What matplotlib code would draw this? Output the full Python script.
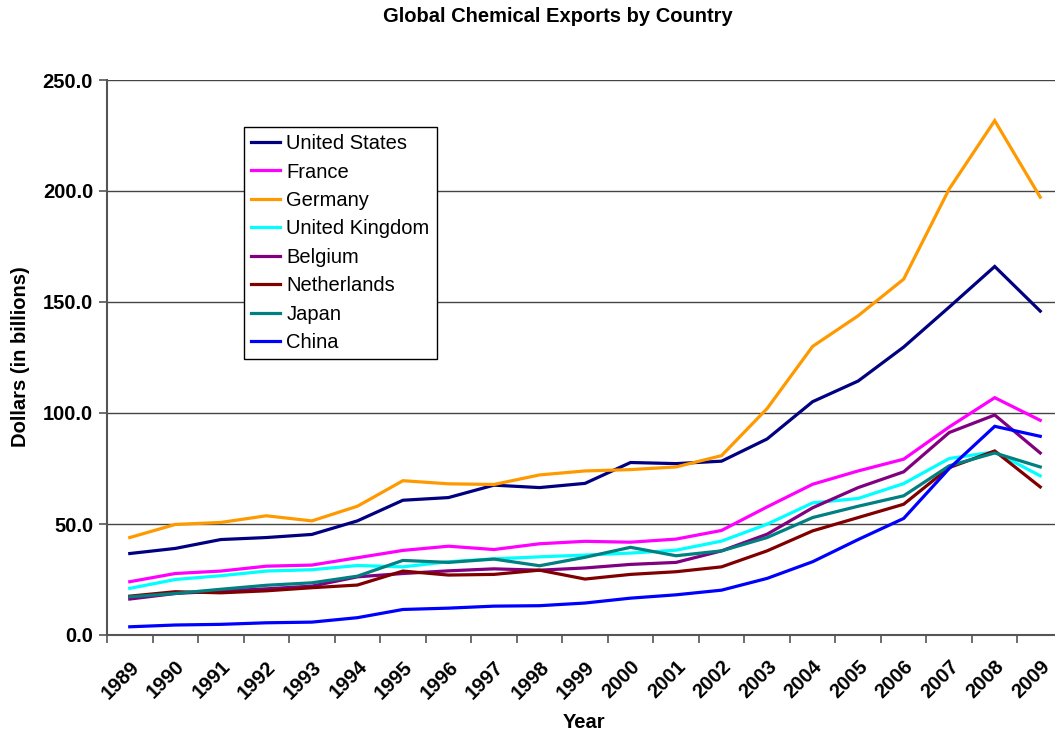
import numpy as np
import matplotlib
matplotlib.use('Agg')
import matplotlib.pyplot as plt

plt.rcParams['font.family'] = ['Liberation Sans', 'DejaVu Sans']

years = [str(y) for y in range(1989, 2010)]

# values, billions of dollars
united_states = [36.7, 39.0, 43.0, 43.9, 45.3, 51.4, 60.7, 61.9, 67.5, 66.4, 68.3,
                 77.7, 77.2, 78.3, 88.3, 105.1, 114.4, 129.7, 147.7, 166.0, 145.9]
france = [24.0, 27.7, 28.8, 31.0, 31.5, 34.8, 38.1, 40.0, 38.5, 41.1, 42.2,
          41.8, 43.2, 47.1, 57.7, 67.9, 73.9, 79.2, 93.7, 106.9, 96.7]
germany = [43.9, 49.8, 50.7, 53.7, 51.4, 58.0, 69.5, 68.1, 67.8, 72.1, 73.9,
           74.5, 75.7, 80.8, 102.0, 130.0, 143.8, 160.3, 200.9, 231.7, 197.2]
united_kingdom = [21.0, 25.0, 26.7, 28.8, 29.4, 31.3, 30.7, 33.0, 34.3, 35.2, 36.0,
                  36.9, 38.2, 42.3, 49.9, 59.5, 61.5, 68.2, 79.5, 82.5, 71.7]
belgium = [16.2, 18.7, 19.8, 20.8, 22.0, 26.2, 27.7, 28.9, 29.8, 29.2, 30.2,
           31.8, 32.7, 37.9, 45.4, 57.3, 66.4, 73.5, 91.2, 99.1, 82.0]
netherlands = [17.5, 19.5, 19.0, 19.9, 21.3, 22.5, 28.8, 27.0, 27.3, 29.2, 25.2,
               27.3, 28.5, 30.7, 37.9, 46.9, 52.9, 58.9, 75.4, 82.9, 66.7]
japan = [17.2, 18.7, 20.6, 22.4, 23.5, 26.5, 33.6, 32.7, 34.2, 31.2, 35.0,
         39.5, 35.7, 37.9, 43.9, 52.9, 58.0, 62.7, 76.2, 82.0, 75.7]
china = [3.7, 4.5, 4.8, 5.5, 5.8, 7.8, 11.5, 12.1, 13.0, 13.2, 14.4,
         16.6, 18.1, 20.2, 25.5, 33.0, 43.0, 52.5, 75.0, 94.0, 89.5]

series = [
    ('United States', united_states, '#000080'),
    ('France', france, '#FF00FF'),
    ('Germany', germany, '#FF9900'),
    ('United Kingdom', united_kingdom, '#00FFFF'),
    ('Belgium', belgium, '#800080'),
    ('Netherlands', netherlands, '#800000'),
    ('Japan', japan, '#008080'),
    ('China', china, '#0000FF'),
]

fs = 14.5

fig = plt.figure(figsize=(10.55, 7.37), dpi=100)
ax = fig.add_axes([107/1055, 1-635/737, 956/1055, 555/737])

x = np.arange(len(years))
for name, vals, col in series:
    ax.plot(x, vals, color=col, lw=2.3, label=name, solid_joinstyle='miter')

ax.set_xlim(-0.5, len(years) - 0.5)
ax.set_ylim(0, 250)
ax.set_yticks(np.arange(0, 251, 50))
ax.set_yticklabels(['%.1f' % v for v in np.arange(0, 251, 50)], fontsize=fs, fontweight='bold')
ax.yaxis.grid(True, color='#444444', lw=1.0)
ax.set_axisbelow(True)

ax.set_xticks(x)
ax.set_xticklabels(years, fontsize=fs, fontweight='bold', rotation=45,
                   ha='right', va='top', rotation_mode='anchor')
ax.set_xticks(np.arange(-0.5, len(years)), minor=True)
ax.tick_params(axis='x', which='major', length=0, pad=16)
ax.tick_params(axis='x', which='minor', length=6, width=1.2, color='#555555', direction='out')
ax.tick_params(axis='y', length=6, width=1.2, color='#555555', direction='out', pad=4)

for s in ['top', 'right']:
    ax.spines[s].set_visible(False)
for s in ['left', 'bottom']:
    ax.spines[s].set_color('#555555')
    ax.spines[s].set_linewidth(1.5)

fig.text(558/1055, 1-17/737, 'Global Chemical Exports by Country', ha='center', va='center',
         fontsize=fs, fontweight='bold')
fig.text(21/1055, 1-357/737, 'Dollars (in billions)', rotation=90, ha='center', va='center',
         fontsize=fs, fontweight='bold')
fig.text(584/1055, 1-722/737, 'Year', ha='center', va='center', fontsize=fs, fontweight='bold')

leg = ax.legend(loc='upper left', bbox_to_anchor=(244/1055, 1-127/737),
                bbox_transform=fig.transFigure, fontsize=fs, frameon=True, fancybox=False,
                edgecolor='black', framealpha=1, handlelength=1.45, handletextpad=0.3,
                labelspacing=0.47, borderpad=0.35, borderaxespad=0)
leg.get_frame().set_linewidth(1.0)

fig.savefig('out.png', dpi=100)
